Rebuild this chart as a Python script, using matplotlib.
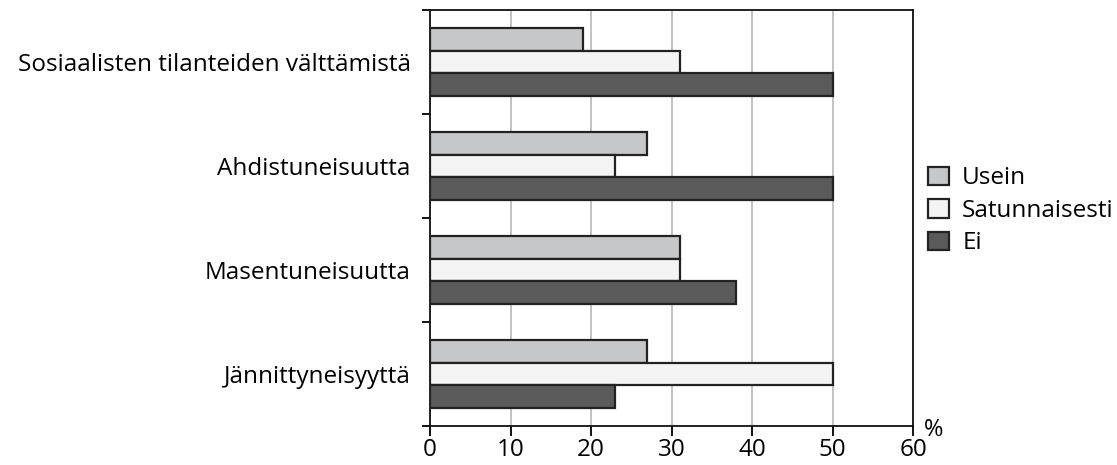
import matplotlib.pyplot as plt
import numpy as np

plt.rcParams['font.family'] = ['Open Sans', 'DejaVu Sans']

categories = ['Sosiaalisten tilanteiden välttämistä', 'Ahdistuneisuutta',
              'Masentuneisuutta', 'Jännittyneisyyttä']
series = ['Usein', 'Satunnaisesti', 'Ei']
usein = [19, 27, 31, 27]
satunnaisesti = [31, 23, 31, 50]
ei = [50, 50, 38, 23]
colors = ['#c6c7c9', '#f4f4f4', '#5a5a5b']

fig = plt.figure(figsize=(11.17, 4.65), dpi=100)
ax = fig.add_axes([0.385, 0.084, 0.4325, 0.8945])

y = np.arange(len(categories))
h = 0.22
for i, (vals, name) in enumerate(zip([usein, satunnaisesti, ei], series)):
    ax.barh(y + (i - 1) * h, vals, height=h, color=colors[i],
            edgecolor='#222222', linewidth=1.6, label=name, zorder=3)

ax.set_xlim(0, 60)
ax.set_ylim(3.5, -0.5)
ax.set_xticks(range(0, 61, 10))
ax.xaxis.grid(True, color='#bdbdbd', linewidth=1.3, zorder=0)

ax.set_yticks(y)
ax.set_yticklabels(categories, fontsize=17.5)
ax.set_yticks(np.arange(-0.5, 4, 1), minor=True)
ax.tick_params(axis='y', which='major', length=0, pad=14)
ax.tick_params(axis='y', which='minor', length=6, width=1.3, direction='out')
ax.tick_params(axis='x', length=7, width=1.3, labelsize=17.5, pad=2)

for s in ax.spines.values():
    s.set_linewidth(1.3)
    s.set_color('#111111')

ax.text(1.043, -0.01, '%', transform=ax.transAxes, fontsize=17,
        ha='center', va='center')

ax.legend(loc='center left', bbox_to_anchor=(1.031, 0.517), frameon=False,
          fontsize=17.5, handlelength=0.85, handleheight=0.8, handletextpad=0.55,
          labelspacing=0.35, borderaxespad=0, borderpad=0)

fig.savefig('out.png', dpi=100)
